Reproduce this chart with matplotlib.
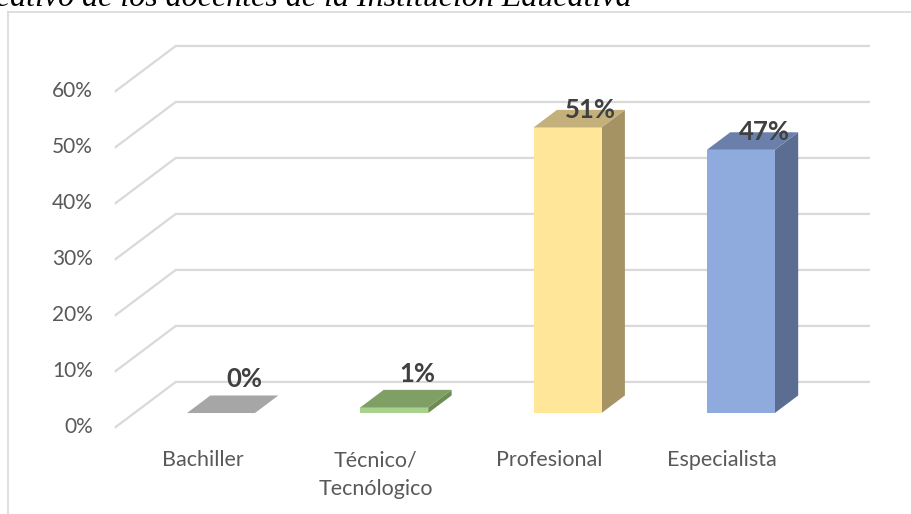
import matplotlib
matplotlib.use("Agg")
import matplotlib.pyplot as plt
from matplotlib.patches import Polygon
from matplotlib.lines import Line2D

# ---- data ----
categories = ["Bachiller", "Técnico/\nTecnólogico", "Profesional", "Especialista"]
values = [0, 1, 51, 47]
value_labels = ["0%", "1%", "51%", "47%"]
ticks = [0, 10, 20, 30, 40, 50, 60]
tick_labels = ["0%", "10%", "20%", "30%", "40%", "50%", "60%"]
title_text = "Nivel educativo de los docentes de la Institución Educativa"

# ---- styling ----
front_colors = ["#a6a6a6", "#a9d18e", "#ffe699", "#8faadc"]
top_colors = ["#a6a6a6", "#7f9f64", "#c4b07a", "#6a80ab"]
side_colors = ["#8c8c8c", "#6d8b55", "#a59364", "#5b6d90"]
grid_color = "#d9d9d9"
text_color = "#595959"
label_color = "#404040"

W, H = 912, 514
fig = plt.figure(figsize=(W / 100, H / 100), dpi=100)
ax = fig.add_axes([0, 0, 1, 1])
ax.set_axis_off()

# oblique projection: the depth axis shifts x (categories) and y (percent)
DX, DY = 0.346, 8.04
D0, D1 = 0.31, 0.70          # bar depth span inside the floor
HALF_W = 0.196               # half width of a bar face
X_MIN, X_MAX = -0.5, len(categories) - 0.5

ax.set_xlim(-1.168, 4.095)
ax.set_ylim(-15.54, 76.25)


def proj(x, v, d):
    return (x + d * DX, v + d * DY)


# side wall diagonals and back wall gridlines
for t in ticks:
    p0 = proj(X_MIN, t, 0)
    p1 = proj(X_MIN, t, 1)
    p2 = proj(X_MAX, t, 1)
    ax.plot([p0[0], p1[0], p2[0]], [p0[1], p1[1], p2[1]],
            color=grid_color, lw=1.6, solid_joinstyle="miter", zorder=1)

# tick labels on the front plane
for t, lab in zip(ticks, tick_labels):
    ax.text(-0.632, t, lab, ha="right", va="center", fontsize=15,
            family="Lato", color=text_color)

# 3D columns
for i, v in enumerate(values):
    c = i
    xl, xr = c - HALF_W, c + HALF_W
    base_f = proj(0, 0, D0)[1]
    top_f = proj(0, v, D0)[1]
    shx = (D1 - D0) * DX
    shy = (D1 - D0) * DY
    xl_f, xr_f = proj(xl, 0, D0)[0], proj(xr, 0, D0)[0]
    if v > 0:
        side = Polygon([(xr_f, base_f), (xr_f + shx, base_f + shy),
                        (xr_f + shx, top_f + shy), (xr_f, top_f)],
                       closed=True, facecolor=side_colors[i], edgecolor="none", zorder=3)
        ax.add_patch(side)
        front = Polygon([(xl_f, base_f), (xr_f, base_f), (xr_f, top_f), (xl_f, top_f)],
                        closed=True, facecolor=front_colors[i], edgecolor="none", zorder=4)
        ax.add_patch(front)
    top = Polygon([(xl_f, top_f), (xr_f, top_f), (xr_f + shx, top_f + shy),
                   (xl_f + shx, top_f + shy)],
                  closed=True, facecolor=top_colors[i], edgecolor="none", zorder=4)
    ax.add_patch(top)

    # value label above the top face
    cx = (xl_f + xr_f) / 2 + shx
    cy = top_f + shy / 2 + (25 - 0.33 * v) / 5.6
    ax.text(cx, cy, value_labels[i], ha="center", va="center",
            fontsize=18.5, fontweight="bold", family="Lato", color=label_color, zorder=6)

# category labels under the front plane
for i, cat in enumerate(categories):
    ax.text(i, -4.2, cat, ha="center", va="top", fontsize=15.5, family="Lato",
            color=text_color, linespacing=1.55)

# chart area frame (left and top edges)
fig.add_artist(Line2D([8 / W, 8 / W], [0, 1 - 12 / H], transform=fig.transFigure,
                      color=grid_color, lw=1.2))
fig.add_artist(Line2D([8 / W, 1], [1 - 12 / H, 1 - 12 / H], transform=fig.transFigure,
                      color=grid_color, lw=1.2))

# caption running above the chart
fig.text(632 / W, 1 - 6.5 / H, title_text, ha="right", va="baseline",
         fontsize=23, family="Liberation Serif", style="italic", color="black")

fig.savefig("out.png", dpi=100, facecolor="white")
